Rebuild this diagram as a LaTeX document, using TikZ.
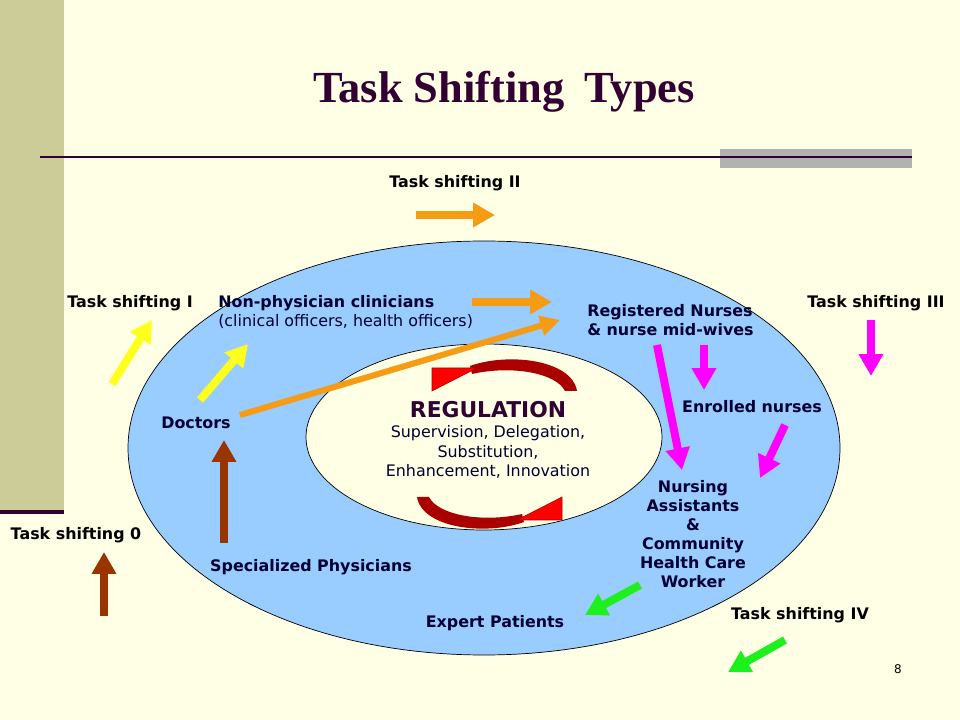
\documentclass[tikz,border=0pt]{standalone}
\usepackage{fontspec}
\setmainfont{Liberation Serif}
\setsansfont{DejaVu Sans}
\usetikzlibrary{arrows.meta}
\definecolor{slidebg}{RGB}{255,255,229}
\definecolor{barkhaki}{RGB}{204,204,153}
\definecolor{plum}{RGB}{51,0,51}
\definecolor{ringblue}{RGB}{153,204,255}
\definecolor{navyink}{RGB}{0,0,51}
\definecolor{tsorange}{RGB}{245,155,20}
\definecolor{tsyellow}{RGB}{255,255,30}
\definecolor{tsmagenta}{RGB}{255,0,255}
\definecolor{tsgreen}{RGB}{30,240,30}
\definecolor{tsbrown}{RGB}{153,51,0}
\definecolor{cyclered}{RGB}{170,0,0}
\begin{document}
\begin{tikzpicture}[x=0.025cm,y=-0.025cm,
  lbl/.style={font=\sffamily\bfseries\fontsize{11.3}{13.5}\selectfont,inner sep=0pt},
  txt/.style={font=\sffamily\fontsize{11.3}{13.8}\selectfont,inner sep=0pt},
  blockarrow/.style={line width=5.7pt,-{Triangle[width=16.5pt,length=15.5pt]}},
  headtri/.style={fill=red,draw=cyclered,line width=0.4pt}]
% Slide background
\fill[slidebg] (0,0) rectangle (960,720);
\useasboundingbox (0,0) rectangle (960,720);
\fill[barkhaki] (0,0) rectangle (64,511);
\fill[plum] (0,510) rectangle (64,514);
\fill[gray!60] (720,149) rectangle (912,168);
\draw[plum,line width=1.6pt] (40,157) -- (912,157);
\node[font=\rmfamily\bfseries\fontsize{31.6}{36}\selectfont,text=plum,inner sep=0pt] (title) at (504,92) {Task Shifting\hspace{0.2em} Types};
% Rings
\draw[fill=ringblue,line width=0.5pt] (484,448) ellipse [x radius=356, y radius=207];
\draw[fill=slidebg,line width=0.5pt] (484,437) ellipse [x radius=178, y radius=93];
% Regulation cycle
\fill[cyclered] (417,497) .. controls (422,528) and (485,536) .. (524,522)
  -- (522,514) .. controls (482,523) and (438,515) .. (429,497) -- cycle;
\filldraw[headtri] (562,497) -- (562,520) -- (517,520) -- cycle;
\fill[cyclered] (577,391) .. controls (572,360) and (509,352) .. (470,366)
  -- (472,374) .. controls (512,365) and (556,373) .. (565,391) -- cycle;
\filldraw[headtri] (432,391) -- (432,368) -- (477,368) -- cycle;
\node[font=\sffamily\bfseries\fontsize{15.5}{18}\selectfont,text=plum,inner sep=0pt] (reg) at (488,410) {REGULATION};
\node[txt,text=navyink,align=center] (regtypes) at (488,452) {Supervision, Delegation,\\Substitution,\\Enhancement, Innovation};
% Cadres
\node[lbl,text=navyink,align=left,anchor=west] (npc) at (218,312.5) {Non-physician clinicians\\\mdseries(clinical officers, health officers)};
\node[lbl,text=navyink,align=left,anchor=west] (rn) at (587,320.5) {Registered Nurses\\\& nurse mid-wives};
\node[lbl,text=navyink] (doc) at (196,423) {Doctors};
\node[lbl,text=navyink] (enr) at (752,407) {Enrolled nurses};
\node[lbl,text=navyink,align=center] (nac) at (693,534.5) {Nursing\\Assistants\\\&\\Community\\Health Care\\Worker};
\node[lbl,text=navyink] (spec) at (311,567) {Specialized Physicians};
\node[lbl,text=navyink] (exp) at (495,623) {Expert Patients};
% Task shifting labels
\node[lbl] (ts0) at (76,535) {Task shifting 0};
\node[lbl] (ts1) at (130,303) {Task shifting I};
\node[lbl] (ts2) at (455,183) {Task shifting II};
\node[lbl] (ts3) at (876,303) {Task shifting III};
\node[lbl] (ts4) at (800,615) {Task shifting IV};
\node[font=\sffamily\fontsize{8.5}{10}\selectfont,inner sep=0pt] (page) at (898,669) {8};
% Shifting arrows
\draw[blockarrow,tsbrown] (104,616) -- (104,552);
\draw[blockarrow,tsbrown] (224,543) -- (224,440);
\draw[blockarrow,tsyellow] (112,384) -- (152,320);
\draw[blockarrow,tsyellow] (200,400) -- (248,344);
\draw[blockarrow,tsorange] (416,215) -- (495,215);
\draw[blockarrow,tsorange] (472,302) -- (552,302);
\draw[tsorange,line width=4.3pt,-{Triangle[width=14pt,length=14pt]}] (240,415) -- (560,320);
\draw[blockarrow,tsmagenta] (871,320) -- (871,376);
\draw[blockarrow,tsmagenta] (704,345) -- (704,390);
\draw[blockarrow,tsmagenta] (657,345) -- (682,470);
\draw[blockarrow,tsmagenta] (785,425) -- (760,478);
\draw[blockarrow,tsgreen] (640,585) -- (585,615);
\draw[blockarrow,tsgreen] (785,640) -- (728,672);
\end{tikzpicture}
\end{document}
